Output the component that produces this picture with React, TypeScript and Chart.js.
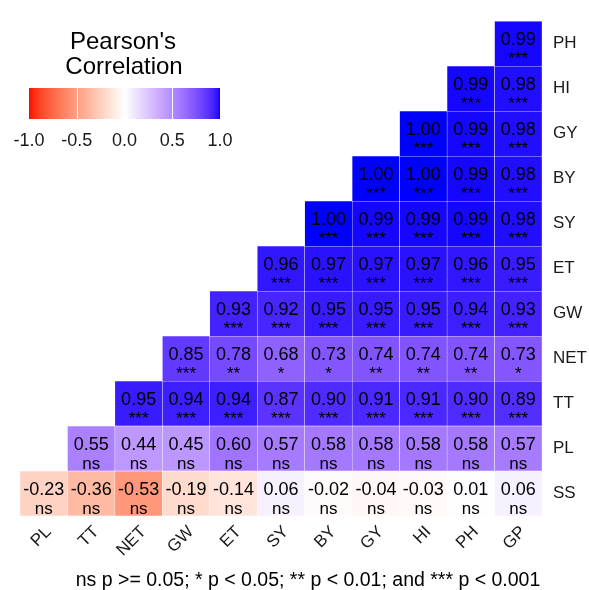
import React, { useEffect, useRef } from "react";
import { Chart, registerables } from "chart.js";

Chart.register(...registerables);

// ---- data ----
const xLabels = ["PL", "TT", "NET", "GW", "ET", "SY", "BY", "GY", "HI", "PH", "GP"];
// rows from bottom to top
const yLabels = ["SS", "PL", "TT", "NET", "GW", "ET", "SY", "BY", "GY", "HI", "PH"];

// each row r holds values for columns r..10
const rowSS = [-0.23, -0.36, -0.53, -0.19, -0.14, 0.06, -0.02, -0.04, -0.03, 0.01, 0.06];
const rowPL = [0.55, 0.44, 0.45, 0.6, 0.57, 0.58, 0.58, 0.58, 0.58, 0.57];
const rowTT = [0.95, 0.94, 0.94, 0.87, 0.9, 0.91, 0.91, 0.9, 0.89];
const rowNET = [0.85, 0.78, 0.68, 0.73, 0.74, 0.74, 0.74, 0.73];
const rowGW = [0.93, 0.92, 0.95, 0.95, 0.95, 0.94, 0.93];
const rowET = [0.96, 0.97, 0.97, 0.97, 0.96, 0.95];
const rowSY = [1.0, 0.99, 0.99, 0.99, 0.98];
const rowBY = [1.0, 1.0, 0.99, 0.98];
const rowGY = [1.0, 0.99, 0.98];
const rowHI = [0.99, 0.98];
const rowPH = [0.99];

const sigSS = ["ns", "ns", "ns", "ns", "ns", "ns", "ns", "ns", "ns", "ns", "ns"];
const sigPL = ["ns", "ns", "ns", "ns", "ns", "ns", "ns", "ns", "ns", "ns"];
const sigTT = ["***", "***", "***", "***", "***", "***", "***", "***", "***"];
const sigNET = ["***", "**", "*", "*", "**", "**", "**", "*"];
const sigGW = ["***", "***", "***", "***", "***", "***", "***"];
const sigET = ["***", "***", "***", "***", "***", "***"];
const sigSY = ["***", "***", "***", "***", "***"];
const sigBY = ["***", "***", "***", "***"];
const sigGY = ["***", "***", "***"];
const sigHI = ["***", "***"];
const sigPH = ["***"];

const legendTicks = [-1.0, -0.5, 0.0, 0.5, 1.0];
const legendTitle = ["Pearson's", "Correlation"];
const footnote = "ns p >= 0.05; * p < 0.05; ** p < 0.01; and *** p < 0.001";

const rows = [rowSS, rowPL, rowTT, rowNET, rowGW, rowET, rowSY, rowBY, rowGY, rowHI, rowPH];
const sigs = [sigSS, sigPL, sigTT, sigNET, sigGW, sigET, sigSY, sigBY, sigGY, sigHI, sigPH];

type Cell = { x: string; y: [number, number]; v: number; s: string; r: number; c: number };
const cells: Cell[] = [];
rows.forEach((vals, r) =>
  vals.forEach((v, k) => {
    const c = r + k;
    cells.push({ x: xLabels[c], y: [r - 0.5, r + 0.5], v, s: sigs[r][k], r, c });
  })
);

// ---- colour (Lab interpolation like ggplot gradient2) ----
function toLin(c: number) {
  c /= 255;
  return c <= 0.04045 ? c / 12.92 : Math.pow((c + 0.055) / 1.055, 2.4);
}
function fromLin(c: number) {
  const v = c <= 0.0031308 ? 12.92 * c : 1.055 * Math.pow(c, 1 / 2.4) - 0.055;
  return Math.round(Math.max(0, Math.min(1, v)) * 255);
}
const Xn = 0.95047, Yn = 1.0, Zn = 1.08883;
function rgbToLab(rgb: number[]) {
  const r = toLin(rgb[0]), g = toLin(rgb[1]), b = toLin(rgb[2]);
  const X = 0.4124564 * r + 0.3575761 * g + 0.1804375 * b;
  const Y = 0.2126729 * r + 0.7151522 * g + 0.072175 * b;
  const Z = 0.0193339 * r + 0.119192 * g + 0.9503041 * b;
  const f = (t: number) => (t > 0.008856 ? Math.cbrt(t) : 7.787 * t + 16 / 116);
  const fx = f(X / Xn), fy = f(Y / Yn), fz = f(Z / Zn);
  return [116 * fy - 16, 500 * (fx - fy), 200 * (fy - fz)];
}
function labToRgb(lab: number[]) {
  const fy = (lab[0] + 16) / 116;
  const fx = fy + lab[1] / 500;
  const fz = fy - lab[2] / 200;
  const finv = (t: number) => (t * t * t > 0.008856 ? t * t * t : (t - 16 / 116) / 7.787);
  const X = Xn * finv(fx), Y = Yn * finv(fy), Z = Zn * finv(fz);
  const r = 3.2404542 * X - 1.5371385 * Y - 0.4985314 * Z;
  const g = -0.969266 * X + 1.8760108 * Y + 0.041556 * Z;
  const b = 0.0556434 * X - 0.2040259 * Y + 1.0572252 * Z;
  return [fromLin(r), fromLin(g), fromLin(b)];
}
const LAB_RED = rgbToLab([255, 0, 0]);
const LAB_WHITE = rgbToLab([255, 255, 255]);
const LAB_BLUE = rgbToLab([0, 0, 255]);
function colorFor(v: number) {
  const t = Math.max(-1, Math.min(1, v));
  const end = t < 0 ? LAB_RED : LAB_BLUE;
  const a = Math.abs(t);
  const lab = [0, 1, 2].map((i) => LAB_WHITE[i] + (end[i] - LAB_WHITE[i]) * a);
  const [r, g, b] = labToRgb(lab);
  return `rgb(${r},${g},${b})`;
}

const FONT = '"Liberation Sans", Arial, Helvetica, sans-serif';

const cellTextPlugin = {
  id: "cellText",
  afterDatasetsDraw(chart: any) {
    const ctx = chart.ctx;
    const xs = chart.scales.x;
    const ys = chart.scales.y;
    ctx.save();
    ctx.fillStyle = "#000";
    ctx.textAlign = "center";
    ctx.textBaseline = "alphabetic";
    for (const cell of cells) {
      const cx = xs.getPixelForValue(cell.c);
      const cy = ys.getPixelForValue(cell.r);
      ctx.font = `18px ${FONT}`;
      ctx.fillText(cell.v.toFixed(2), cx, cy + 1);
      ctx.font = `17px ${FONT}`;
      ctx.fillText(cell.s, cx, cy + 20);
    }
    ctx.restore();
  },
};

const legendPlugin = {
  id: "corrLegend",
  afterDraw(chart: any) {
    const ctx = chart.ctx;
    ctx.save();
    // title
    ctx.fillStyle = "#000";
    ctx.textAlign = "center";
    ctx.textBaseline = "alphabetic";
    ctx.font = `24px ${FONT}`;
    ctx.fillText(legendTitle[0], 123, 49);
    ctx.fillText(legendTitle[1], 124, 74);
    // colour bar
    const x0 = 29, x1 = 220, y0 = 88, y1 = 119;
    const toX = (v: number) => x0 + ((v + 1) / 2) * (x1 - x0);
    for (let px = x0; px < x1; px++) {
      const v = ((px + 0.5 - x0) / (x1 - x0)) * 2 - 1;
      ctx.fillStyle = colorFor(v);
      ctx.fillRect(px, y0, 1, y1 - y0);
    }
    ctx.strokeStyle = "rgba(255,255,255,0.9)";
    ctx.lineWidth = 1;
    for (const t of legendTicks) {
      if (t <= -1 || t >= 1) continue;
      const x = Math.round(toX(t)) + 0.5;
      ctx.beginPath();
      ctx.moveTo(x, y0);
      ctx.lineTo(x, y1);
      ctx.stroke();
    }
    ctx.fillStyle = "#1a1a1a";
    ctx.font = `18px ${FONT}`;
    for (const t of legendTicks) {
      ctx.fillText(t.toFixed(1), toX(t), 146);
    }
    // footnote
    ctx.fillStyle = "#000";
    ctx.font = `19.5px ${FONT}`;
    ctx.fillText(footnote, 308, 586);
    ctx.restore();
  },
};

export default function App() {
  const ref = useRef<HTMLCanvasElement>(null);
  useEffect(() => {
    if (!ref.current) return;
    const chart = new Chart(ref.current, {
      type: "bar",
      data: {
        labels: xLabels,
        datasets: [
          {
            data: cells as any,
            backgroundColor: (c: any) => (c.raw ? colorFor(c.raw.v) : "transparent"),
            borderColor: "rgba(255,255,255,0.6)",
            borderWidth: 0.5,
            borderSkipped: false,
            barPercentage: 1,
            categoryPercentage: 1,
          } as any,
        ],
      },
      options: {
        animation: false,
        responsive: false,
        devicePixelRatio: 1,
        layout: { padding: { left: 20, top: 14, right: 0, bottom: 0 } },
        plugins: {
          legend: { display: false },
          tooltip: { enabled: false },
          title: { display: false },
        },
        scales: {
          x: {
            type: "category",
            position: "bottom",
            offset: true,
            grid: { display: false, drawTicks: false },
            border: { display: false },
            ticks: {
              autoSkip: false,
              minRotation: 45,
              maxRotation: 45,
              padding: 6,
              labelOffset: 5,
              color: "#1a1a1a",
              font: { family: FONT, size: 17 },
            },
            afterFit: (s: any) => {
              s.height = 74;
            },
          },
          y: {
            type: "linear",
            position: "right",
            min: -0.5,
            max: 10.5,
            grid: { display: false, drawTicks: false },
            border: { display: false },
            afterBuildTicks: (s: any) => {
              s.ticks = yLabels.map((_, i) => ({ value: i }));
            },
            ticks: {
              padding: 11,
              color: "#1a1a1a",
              font: { family: FONT, size: 17 },
              callback: (v: any) => yLabels[Math.round(Number(v))] ?? "",
            },
            afterFit: (s: any) => {
              s.width = 47;
            },
          },
        },
      },
      plugins: [cellTextPlugin, legendPlugin],
    } as any);
    return () => chart.destroy();
  }, []);
  return (
    <div style={{ position: "fixed", left: 0, top: 0, width: 589, height: 590, background: "#fff" }}>
      <canvas ref={ref} width={589} height={590} style={{ display: "block", width: 589, height: 590 }} />
    </div>
  );
}
